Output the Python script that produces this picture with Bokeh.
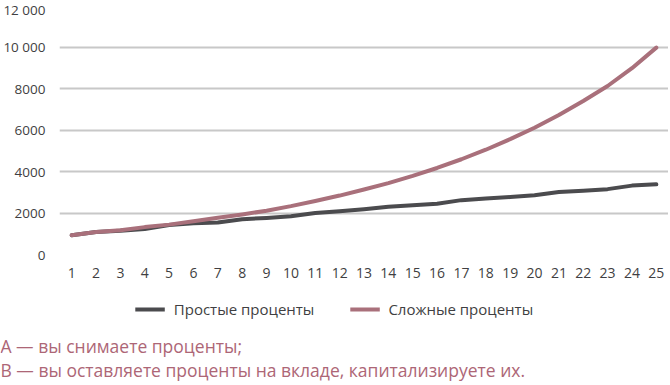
from bokeh.plotting import figure
from bokeh.layouts import column
from bokeh.models import (Range1d, FixedTicker, Legend, LegendItem, Label, ColumnDataSource)
from bokeh.embed import file_html
from bokeh.resources import INLINE

years = list(range(1, 26))
simple = [930, 1080, 1150, 1230, 1420, 1500, 1540, 1700, 1760, 1840, 2000, 2080, 2180,
          2300, 2370, 2450, 2620, 2700, 2770, 2860, 3010, 3070, 3150, 3320, 3380]
compound = [930, 1080, 1170, 1320, 1440, 1600, 1770, 1930, 2110, 2330, 2580, 2840, 3130,
            3440, 3790, 4170, 4590, 5050, 5560, 6110, 6720, 7400, 8120, 8980, 9970]
y_ticks = [0, 2000, 4000, 6000, 8000, 10000, 12000]
y_tick_labels = ["0", "2000", "4000", "6000", "8000", "10 000", "12 000"]
series_names = ["Простые проценты", "Сложные проценты"]
note_a = "А — вы снимаете проценты;"
note_b = "В — вы оставляете проценты на вкладе, капитализируете их."

FONT = "Open Sans"
C_SIMPLE = "#4b4b4e"
C_COMP = "#a9707b"
C_NOTE = "#ad6676"
C_TEXT = "#3f3f42"
W = 668

src = ColumnDataSource(dict(x=years, s=simple, c=compound))

# ---- main chart ----
p = figure(width=W, height=280, output_backend="svg", toolbar_location=None,
           x_range=Range1d(0.5, 25.5), y_range=Range1d(0, 12000),
           min_border_left=54, min_border_right=0, min_border_top=5, min_border_bottom=25)
p.outline_line_color = None
p.frame_align = False

p.line("x", "s", source=src, line_color=C_SIMPLE, line_width=4, line_cap="round", line_join="round")
p.line("x", "c", source=src, line_color=C_COMP, line_width=4, line_cap="round", line_join="round")

p.xgrid.grid_line_color = None
p.ygrid.grid_line_color = "#c8c8c8"
p.ygrid.grid_line_width = 2
p.ygrid.ticker = FixedTicker(ticks=y_ticks)

p.yaxis.ticker = FixedTicker(ticks=y_ticks)
p.yaxis.major_label_overrides = {t: l for t, l in zip(y_ticks, y_tick_labels)}
p.xaxis.ticker = FixedTicker(ticks=years)
for ax in (p.xaxis[0], p.yaxis[0]):
    ax.axis_line_color = None
    ax.major_tick_line_color = None
    ax.minor_tick_line_color = None
    ax.major_label_text_font = FONT
    ax.major_label_text_color = C_TEXT
p.yaxis.major_label_text_font_size = "13.5px"
p.xaxis.major_label_text_font_size = "14px"
p.yaxis.major_label_standoff = 8
p.xaxis.major_label_standoff = 7

# ---- legend + notes ----
QH = 104
q = figure(width=W, height=QH, output_backend="svg", toolbar_location=None,
           x_range=Range1d(0, W), y_range=Range1d(QH, 0),
           min_border_left=0, min_border_right=0, min_border_top=0, min_border_bottom=0)
q.outline_line_color = None
q.frame_align = False
q.axis.visible = False
q.grid.visible = False
q1 = q.line("x", "s", source=src, line_color=C_SIMPLE, line_width=4)
q2 = q.line("x", "c", source=src, line_color=C_COMP, line_width=4)

legend = Legend(items=[LegendItem(label=series_names[0], renderers=[q1]),
                       LegendItem(label=series_names[1], renderers=[q2])],
                orientation="horizontal", location="top_center",
                label_text_font=FONT, label_text_font_size="15px", label_text_color=C_TEXT,
                glyph_width=30, glyph_height=14, spacing=35, label_standoff=9,
                border_line_color=None, background_fill_alpha=0,
                margin=19, padding=4)
q.add_layout(legend, "center")

for txt, yy in ((note_a, 65), (note_b, 89)):
    q.add_layout(Label(x=0, y=yy, text=txt,
                       text_font=FONT, text_font_size="17.5px", text_color=C_NOTE,
                       text_baseline="middle", text_align="left"))

layout = column(p, q, spacing=0)
open("out.html", "w").write(file_html(layout, INLINE))
